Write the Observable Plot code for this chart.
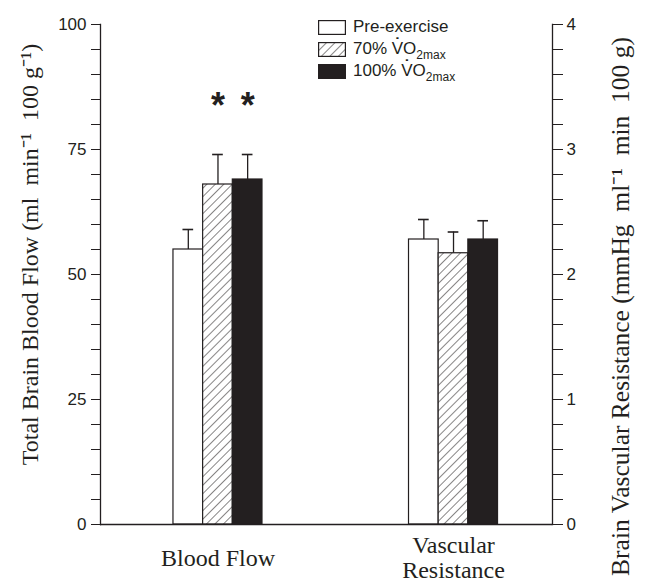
<!DOCTYPE html>
<html><head><meta charset="utf-8">
<script src="https://cdn.jsdelivr.net/npm/d3@7"></script>
<script src="https://cdn.jsdelivr.net/npm/@observablehq/plot@0.6"></script>
<style>
body{margin:0;background:#fff;}
#wrap{position:relative;width:646px;height:582px;overflow:hidden;}
.row{position:absolute;left:318px;height:16px;display:flex;align-items:center;font-family:"Liberation Sans",Arial,sans-serif;font-size:17px;color:#231f20;white-space:nowrap;}
.row svg{margin-right:7px;flex:none;}
.row sub{font-size:12px;vertical-align:-5px;line-height:0;}
.vdot{position:relative;display:inline-block;line-height:1;}
.vdot i{position:absolute;left:50%;top:-4px;transform:translateX(-50%);font-style:normal;font-size:16px;font-weight:bold;line-height:1;}
</style></head><body><div id="wrap"></div>
<script>
const groups = ["Blood Flow", "Vascular Resistance"];
const groupLabels = ["Blood Flow", "Vascular\nResistance"];
const conditions = ["Pre-exercise", "70% V̇O2max", "100% V̇O2max"];
const bloodFlowMean = [55, 68, 69];
const bloodFlowError = [4, 6, 5];
const resistanceMean = [2.28, 2.17, 2.28];
const resistanceError = [0.16, 0.17, 0.15];
const bloodFlowSig = ["", "*", "*"];
const resistanceSig = ["", "", ""];
const leftTicks = [0, 25, 50, 75, 100];
const rightTicks = [0, 1, 2, 3, 4];
const minorStep = 5;
const leftTitle = "Total Brain Blood Flow (ml\u00a0\u00a0min⁻¹\u00a0\u00a0100 g⁻¹)";
const rightTitle = "Brain Vascular Resistance (mmHg\u00a0\u00a0ml⁻¹\u00a0\u00a0min\u00a0\u00a0100 g)";

const ink = "#231f20";
const serif = "Liberation Serif, Times New Roman, serif";
const ratio = leftTicks[leftTicks.length - 1] / rightTicks[rightTicks.length - 1];
const rows = [];
conditions.forEach((c, i) => {
  rows.push({group: groups[0], cond: c, i, mean: bloodFlowMean[i], upper: bloodFlowMean[i] + bloodFlowError[i], sig: bloodFlowSig[i]});
  rows.push({group: groups[1], cond: c, i, mean: resistanceMean[i] * ratio, upper: (resistanceMean[i] + resistanceError[i]) * ratio, sig: resistanceSig[i]});
});
const bw = 29.67;
const marks = [];
conditions.forEach((c, i) => {
  const d = rows.filter(r => r.i === i);
  const dx = (i - 1) * bw;
  marks.push(Plot.ruleX(d, {x: "group", y1: "mean", y2: "upper", dx, stroke: ink, strokeWidth: 1.3}));
  marks.push(Plot.tickY(d, {x: "group", y: "upper", dx, insetLeft: 9.5, insetRight: 9.5, stroke: ink, strokeWidth: 1.6}));
  marks.push(Plot.barY(d, {x: "group", y: "mean", fill: "cond", dx, stroke: ink, strokeWidth: 1.2}));
  marks.push(Plot.text(d, {x: "group", y: "upper", text: "sig", dx, dy: -48, fontSize: 36, fontWeight: "bold", fill: ink, fontFamily: "Liberation Sans, Arial, sans-serif"}));
});
const allTicks = d3.range(0, leftTicks[leftTicks.length - 1] + 1, minorStep);

const svg = Plot.plot({
  width: 646, height: 582,
  marginLeft: 100, marginRight: 94, marginTop: 24, marginBottom: 58,
  style: {fontFamily: "Liberation Sans, Arial, sans-serif", fontSize: "17px", color: ink, background: "#fff"},
  x: {domain: groups, paddingInner: 0.874, paddingOuter: 0.3965, align: 0.5495, round: false, axis: null},
  y: {domain: [0, 100]},
  color: {domain: conditions, range: ["#ffffff", "url(#hatch)", ink]},
  marks: [
    ...marks,
    Plot.ruleY([0], {stroke: ink, strokeWidth: 1.3}),
    Plot.frame({anchor: "left", stroke: ink, strokeWidth: 1.3}),
    Plot.frame({anchor: "right", stroke: ink, strokeWidth: 1.3}),
    Plot.axisY({anchor: "left", ticks: allTicks, tickFormat: d => leftTicks.includes(d) ? String(d) : "", tickSize: 9, tickPadding: 5, label: null, stroke: ink}),
    Plot.axisY({anchor: "right", ticks: allTicks, tickFormat: d => leftTicks.includes(d) ? String(d / ratio) : "", tickSize: 10, tickPadding: 4, label: null, stroke: ink}),
    Plot.text([leftTitle], {frameAnchor: "left", textAnchor: "middle", rotate: -90, dx: -70, dy: -20, fontFamily: serif, fontSize: 24, fill: ink}),
    Plot.text([rightTitle], {frameAnchor: "right", textAnchor: "middle", rotate: -90, dx: 68, dy: 32, fontFamily: serif, fontSize: 25.5, fill: ink}),
    Plot.text(groups.map((g, i) => ({g, label: groupLabels[i]})), {x: "g", text: "label", frameAnchor: "bottom", dy: 33, lineAnchor: "middle", lineHeight: 1.05, fontFamily: serif, fontSize: 24, fill: ink})
  ]
});
d3.select(svg).insert("defs", ":first-child").html(
  `<pattern id="hatch" patternUnits="userSpaceOnUse" width="6" height="6" patternTransform="rotate(45)"><rect width="6" height="6" fill="#fff"/><line x1="0" y1="0" x2="0" y2="6" stroke="${ink}" stroke-width="1.1"/></pattern>`
);
const wrap = document.getElementById("wrap");
wrap.appendChild(svg);

function labelHtml(c) {
  return c.replace(/V\u0307/, '<span class="vdot">V<i>˙</i></span>').replace(/2max$/, "<sub>2max</sub>");
}
const fills = ["#ffffff", "url(#hatch2)", ink];
conditions.forEach((c, i) => {
  const row = document.createElement("div");
  row.className = "row";
  row.style.top = (19 + i * 22) + "px";
  row.innerHTML = `<svg width="28" height="15"><defs><pattern id="hatch2" patternUnits="userSpaceOnUse" width="6" height="6" patternTransform="rotate(45)"><rect width="6" height="6" fill="#fff"/><line x1="0" y1="0" x2="0" y2="6" stroke="${ink}" stroke-width="1.1"/></pattern></defs><rect x="0.6" y="0.6" width="26.8" height="13.8" fill="${fills[i]}" stroke="${ink}" stroke-width="1.2"/></svg><span>${labelHtml(c)}</span>`;
  wrap.appendChild(row);
});
</script>
</body></html>
